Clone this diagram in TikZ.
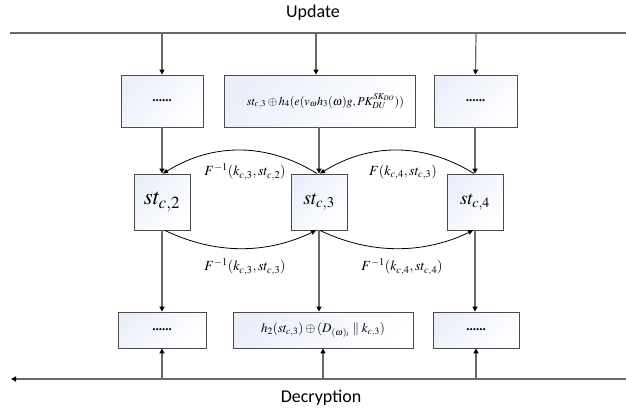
\documentclass[tikz,border=0pt]{standalone}
\usepackage{mathptmx}
\usepackage[no-math]{fontspec}
\setmainfont{Liberation Serif}
\newfontfamily\calib{Carlito}
\usetikzlibrary{arrows.meta}
\definecolor{boxblue}{RGB}{234,239,250}
\definecolor{boxborder}{RGB}{75,75,75}
\definecolor{linegray}{RGB}{105,105,105}
\tikzset{
  box/.style={draw=boxborder, line width=0.9pt, top color=boxblue, bottom color=white,
    shading angle=45, inner sep=0pt, font=\fontsize{12}{14}\selectfont},
  flow/.style={draw=linegray, line width=1.2pt,
    -{Triangle[length=5pt,width=5pt,color=black]}},
  bus/.style={draw=linegray, line width=1.3pt},
  curve/.style={draw=black, line width=0.8pt,
    -{Triangle[length=5pt,width=4.5pt,color=black]}},
  lbl/.style={font=\fontsize{14}{16}\selectfont, inner sep=0pt},
  title/.style={font=\calib\fontsize{18}{20}\selectfont, inner sep=0pt}
}
\begin{document}
\begin{tikzpicture}[x=1pt,y=-1pt]
\useasboundingbox (0,0) rectangle (626,412);
% titles
\node[title] (upd) at (313,13) {Update};
\node[title] (dec) at (321,398) {Decryption};
% buses
\coordinate (busL) at (10,33);
\coordinate (busR) at (626,33);
\draw[bus] (busL) -- (busR);
\coordinate (dbR) at (626,379);
\coordinate (dbL) at (11,379);
\draw[bus, -{Triangle[length=5pt,width=5pt,color=black]}] (dbR) -- (dbL);
% top boxes
\node[box, minimum width=82pt, minimum height=52pt] (t1) at (162,101) {\textbf{\fontsize{13}{15}\selectfont......}};
\node[box, minimum width=191pt, minimum height=52pt] (t2) at (319.5,101)
  {\hspace*{12pt}$st_{c,3}\oplus h_4(e(v_\omega h_3(\omega)g,PK_{DU}^{SK_{DO}}))$};
\node[box, minimum width=83pt, minimum height=52pt] (t3) at (475.5,101) {\textbf{\fontsize{13}{15}\selectfont......}};
% state boxes
\node[box, minimum width=56pt, minimum height=56pt] (s2) at (162,202)
  {\fontsize{23}{26}\selectfont$st_{c,2}$};
\node[box, minimum width=56pt, minimum height=56pt] (s3) at (319,202)
  {\fontsize{20}{23}\selectfont$st_{c,3}$};
\node[box, minimum width=56pt, minimum height=56pt] (s4) at (475,202)
  {\fontsize{19}{22}\selectfont$st_{c,4}$};
% bottom boxes
\node[box, minimum width=88pt, minimum height=36pt] (b1) at (162,330) {\textbf{\fontsize{13}{15}\selectfont......}};
\node[box, minimum width=180pt, minimum height=36pt, font=\fontsize{13}{15}\selectfont] (b2) at (323,330)
  {$h_2(st_{c,3})\oplus(D_{(\omega)_i}\parallel k_{c,3})$};
\node[box, minimum width=86pt, minimum height=36pt] (b3) at (476,330) {\textbf{\fontsize{13}{15}\selectfont......}};
% bus taps
\coordinate (u1) at (162,33);
\coordinate (u2) at (316,33);
\coordinate (u3) at (476,33);
\coordinate (d1) at (162,379);
\coordinate (d2) at (323,379);
\coordinate (d3) at (476,379);
% vertical flows
\draw[flow] (u1) -- (t1.north);
\draw[flow] (u2) -- (u2 |- t2.north);
\draw[flow] (u3) -- (t3.north);
\draw[flow] (t1.south) -- (s2.north);
\draw[flow] (s3.north |- t2.south) -- (s3.north);
\draw[flow] (t3.south -| s4.north) -- (s4.north);
\draw[flow] (s2.south) -- (b1.north);
\draw[flow] (s3.south) -- (s3.south |- b2.north);
\draw[flow] (s4.south) -- (s4.south |- b3.north);
\draw[flow] (d1) -- (b1.south);
\draw[flow] (d2) -- (b2.south);
\draw[flow] (d3) -- (b3.south);
% curved transitions
\draw[curve] ([xshift=-2pt]s3.north) .. controls +(-50,-31) and +(50,-31) .. ([xshift=1pt]s2.north);
\draw[curve] ([xshift=-1pt]s4.north) .. controls +(-50,-31) and +(50,-31) .. ([xshift=1pt]s3.north);
\draw[curve] ([xshift=3pt]s2.south) .. controls +(50,24) and +(-50,24) .. ([xshift=-3pt]s3.south);
\draw[curve] ([xshift=1pt]s3.south) .. controls +(50,24) and +(-50,24) .. ([xshift=-2pt]s4.south);
% labels
\node[lbl] (l1) at (245,172) {$F^{-1}(k_{c,3},st_{c,2})$};
\node[lbl] (l2) at (403,172) {$F(k_{c,4},st_{c,3})$};
\node[lbl] (l3) at (245,267) {$F^{-1}(k_{c,3},st_{c,3})$};
\node[lbl] (l4) at (402,267) {$F^{-1}(k_{c,4},st_{c,4})$};
\end{tikzpicture}
\end{document}
